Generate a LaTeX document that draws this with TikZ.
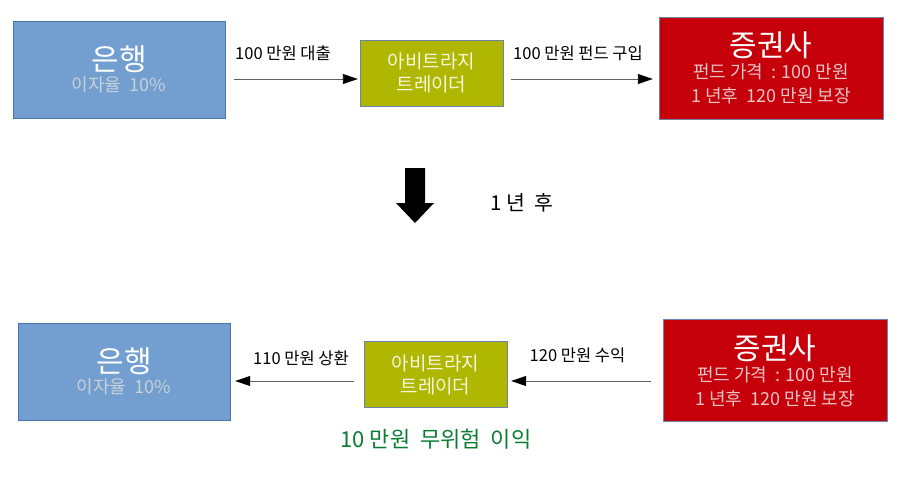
\documentclass[tikz,border=0pt]{standalone}
\usepackage{fontspec}
\setmainfont{Noto Sans CJK KR}
\usetikzlibrary{positioning}
\usetikzlibrary{arrows.meta}

\definecolor{bankblue}{HTML}{729FCF}
\definecolor{bankline}{HTML}{4A74AE}
\definecolor{tradergreen}{HTML}{AFB700}
\definecolor{secred}{HTML}{C5000B}
\definecolor{boxline}{HTML}{6F83A8}
\definecolor{subgray}{HTML}{C9D0D8}
\definecolor{subpink}{HTML}{EBC4C4}
\definecolor{tradertext}{HTML}{F6F6E0}
\definecolor{profitgreen}{HTML}{0A7D32}

\newcommand{\bigTitle}{\fontsize{30}{34}\selectfont}
\newcommand{\subFont}{\fontsize{18}{22}\selectfont}

\tikzset{
  bankBox/.style={draw=bankline, fill=bankblue, minimum width=212pt,
    minimum height=97pt, inner sep=0pt, align=center, text=white, font=\subFont},
  traderBox/.style={draw=boxline, fill=tradergreen, minimum width=143pt,
    minimum height=66pt, inner sep=0pt, align=center, text=tradertext,
    font=\fontsize{19}{23}\selectfont},
  secBox/.style={draw=boxline, fill=secred, minimum width=224pt,
    minimum height=102pt, inner sep=0pt, align=center, text=white, font=\subFont},
  flow/.style={draw=black!62, line width=0.9pt,
    -{Triangle[length=15pt,width=10pt,color=black]}},
  flowLabel/.style={font=\fontsize{16.5}{20}\selectfont, text=black}
}

\begin{document}
\begin{tikzpicture}[x=1pt, y=-1pt]

\useasboundingbox (0,0) rectangle (910,482);

% before
\begin{scope}

\node[bankBox] (bank) at (119,69.5)
{{\bigTitle 은행}\\[-1pt] {\color{subgray}이자율 \ 10\%}};

\node[traderBox] (trader) at (431.5,73)
{아비트라지\\ 트레이더};

\node[secBox] (sec) at (771,68)
{{\bigTitle 증권사}\\[0pt] {\color{subpink}펀드 가격 \ : 100 만원}\\[2pt]
{\color{subpink}1 년후 \ 120 만원 보장}};

\coordinate (rowA) at (0,79);

\draw[flow, shorten <=9pt, shorten >=2pt] (bank.east |- rowA) -- (trader.west |- rowA);
\draw[flow, shorten <=8pt, shorten >=6pt] (trader.east |- rowA) -- (sec.west |- rowA);

\node[flowLabel] (loan) at (283,53) {100 만원 대출};
\node[flowLabel] (buy) at (578,53) {100 만원 펀드 구입};

\end{scope}

% one year later
\fill[black] (405,168) -- (425,168) -- (425,203) -- (434,203) -- (415,223)
  -- (396,203) -- (405,203) -- cycle;
\node[font=\fontsize{20.5}{24}\selectfont] (later) at (522,203) {1 년 \ 후};

% after
\begin{scope}

\node[bankBox] (bank2) at (124,371.5)
{{\bigTitle 은행}\\[-1pt] {\color{subgray}이자율 \ 10\%}};

\node[traderBox] (trader2) at (435.5,374.5)
{아비트라지\\ 트레이더};

\node[secBox] (sec2) at (775,370.5)
{{\bigTitle 증권사}\\[0pt] {\color{subpink}펀드 가격 \ : 100 만원}\\[2pt]
{\color{subpink}1 년후 \ 120 만원 보장}};

\coordinate (rowB) at (0,381);

\draw[flow, shorten <=10pt, shorten >=5pt] (trader2.west |- rowB) -- (bank2.east |- rowB);
\draw[flow, shorten <=12pt, shorten >=4pt] (sec2.west |- rowB) -- (trader2.east |- rowB);

\node[flowLabel] (repay) at (301,358) {110 만원 상환};
\node[flowLabel] (gain) at (577.5,355) {120 만원 수익};

\node[font=\fontsize{22}{26}\selectfont, text=profitgreen] (profit) at (436,439)
{10 만원 \ 무위험 \ 이익};

\end{scope}

\end{tikzpicture}
\end{document}
